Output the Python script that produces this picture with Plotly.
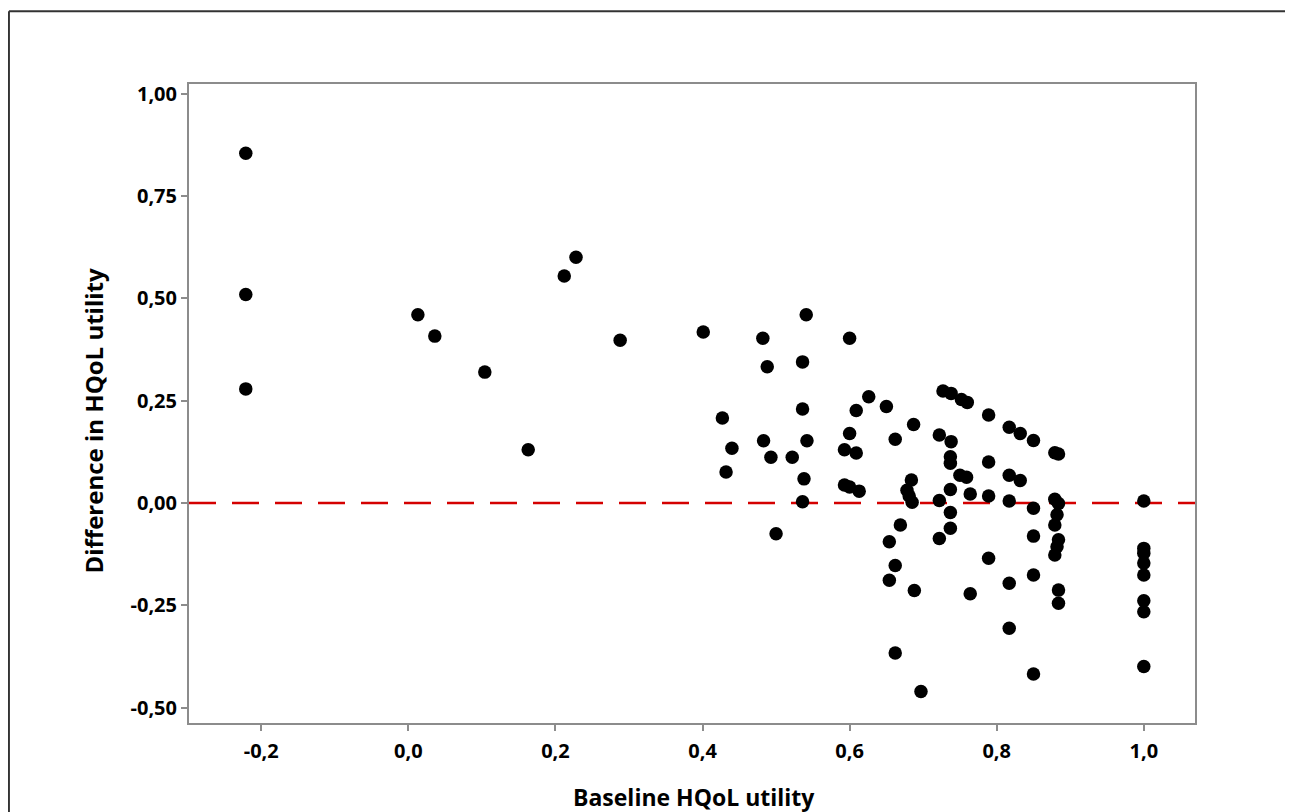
import plotly.graph_objects as go

baseline = [
    -0.221, -0.221, -0.221, 0.013, 0.036, 0.104, 0.163, 0.212, 0.228, 0.288,
    0.401, 0.427, 0.440, 0.432, 0.482, 0.488, 0.483, 0.493, 0.500, 0.522,
    0.536, 0.536, 0.541, 0.542, 0.538, 0.536, 0.600, 0.600, 0.593, 0.609,
    0.593, 0.600, 0.613, 0.609, 0.626, 0.650, 0.662, 0.669, 0.654, 0.662,
    0.654, 0.662, 0.687, 0.684, 0.678, 0.681, 0.685, 0.688, 0.697, 0.722,
    0.722, 0.722, 0.727, 0.738, 0.752, 0.760, 0.738, 0.737, 0.737, 0.750,
    0.759, 0.737, 0.737, 0.737, 0.764, 0.764, 0.789, 0.789, 0.789, 0.789,
    0.817, 0.817, 0.817, 0.817, 0.817, 0.832, 0.832, 0.850, 0.850, 0.850,
    0.850, 0.850, 0.879, 0.884, 0.879, 0.884, 0.882, 0.879, 0.884, 0.882,
    0.879, 0.884, 0.884, 1.000, 1.000, 1.000, 1.000, 1.000, 1.000, 1.000,
    1.000,
]
difference = [
    0.855, 0.510, 0.279, 0.460, 0.408, 0.320, 0.130, 0.555, 0.601, 0.398,
    0.418, 0.208, 0.134, 0.076, 0.403, 0.333, 0.152, 0.112, -0.075, 0.112,
    0.230, 0.345, 0.460, 0.152, 0.059, 0.003, 0.403, 0.170, 0.130, 0.122,
    0.044, 0.039, 0.029, 0.226, 0.260, 0.236, 0.156, -0.054, -0.095, -0.153,
    -0.189, -0.367, 0.192, 0.056, 0.031, 0.017, 0.002, -0.214, -0.461, 0.166,
    0.006, -0.087, 0.274, 0.268, 0.253, 0.246, 0.150, 0.113, 0.097, 0.068,
    0.063, 0.033, -0.023, -0.062, 0.022, -0.222, 0.215, 0.100, 0.017, -0.135,
    0.185, 0.068, 0.005, -0.196, -0.306, 0.170, 0.055, 0.153, -0.013, -0.081,
    -0.176, -0.418, 0.123, 0.120, 0.009, -0.001, -0.029, -0.054, -0.090, -0.107,
    -0.127, -0.213, -0.245, 0.005, -0.111, -0.123, -0.147, -0.176, -0.239, -0.266,
    -0.400,
]

x_tickvals = [-0.2, 0.0, 0.2, 0.4, 0.6, 0.8, 1.0]
x_ticktext = ["-0,2", "0,0", "0,2", "0,4", "0,6", "0,8", "1,0"]
y_tickvals = [1.0, 0.75, 0.5, 0.25, 0.0, -0.25, -0.5]
y_ticktext = ["1,00", "0,75", "0,50", "0,25", "0,00", "-0,25", "-0,50"]
reference_line = 0.0
x_title = "Baseline HQoL utility"
y_title = "Difference in HQoL utility"

FONT = "Open Sans"

fig = go.Figure()
fig.add_trace(go.Scatter(
    x=baseline, y=difference, mode="markers",
    marker=dict(color="black", size=13.5, symbol="circle", line=dict(width=0)),
    showlegend=False, hoverinfo="x+y",
))

fig.add_shape(type="line", xref="paper", yref="y", x0=0, x1=1,
              y0=reference_line, y1=reference_line,
              line=dict(color="#d40000", width=2.5, dash="27px,16px"),
              layer="below")

# outer frame (left and top edges)
fig.add_shape(type="line", xref="paper", yref="paper", x0=-0.179, x1=-0.179,
              y0=-0.3, y1=1.114, line=dict(color="#333333", width=2))
fig.add_shape(type="line", xref="paper", yref="paper", x0=-0.179, x1=1.2,
              y0=1.114, y1=1.114, line=dict(color="#333333", width=2))

axis_common = dict(
    showgrid=False, zeroline=False, showline=True, linecolor="#8c8c8c",
    linewidth=2, mirror=True, ticks="outside", ticklen=6, tickwidth=1.5,
    tickcolor="#8c8c8c", automargin=False,
    tickfont=dict(family=FONT, size=20, color="black", weight="bold"),
)

fig.add_annotation(text=x_title, xref="paper", yref="paper", x=0.5, y=0,
                   xanchor="center", yanchor="middle", yshift=-74, xshift=2,
                   showarrow=False,
                   font=dict(family=FONT, size=23, color="black", weight="bold"))
fig.add_annotation(text=y_title, xref="paper", yref="paper", x=0, y=0.5,
                   xanchor="center", yanchor="middle", xshift=-96, yshift=-18,
                   textangle=-90, showarrow=False,
                   font=dict(family=FONT, size=24, color="black", weight="bold"))

fig.update_layout(
    width=1285, height=804,
    margin=dict(l=181, r=98, t=76, b=89),
    paper_bgcolor="white", plot_bgcolor="white",
    xaxis=dict(range=[-0.2982, 1.0696], tickvals=x_tickvals, ticktext=x_ticktext,
               ticklabelstandoff=3, **axis_common),
    yaxis=dict(range=[-0.5379, 1.0244], tickvals=y_tickvals, ticktext=y_ticktext,
               **axis_common),
)

fig.write_html("out.html")
